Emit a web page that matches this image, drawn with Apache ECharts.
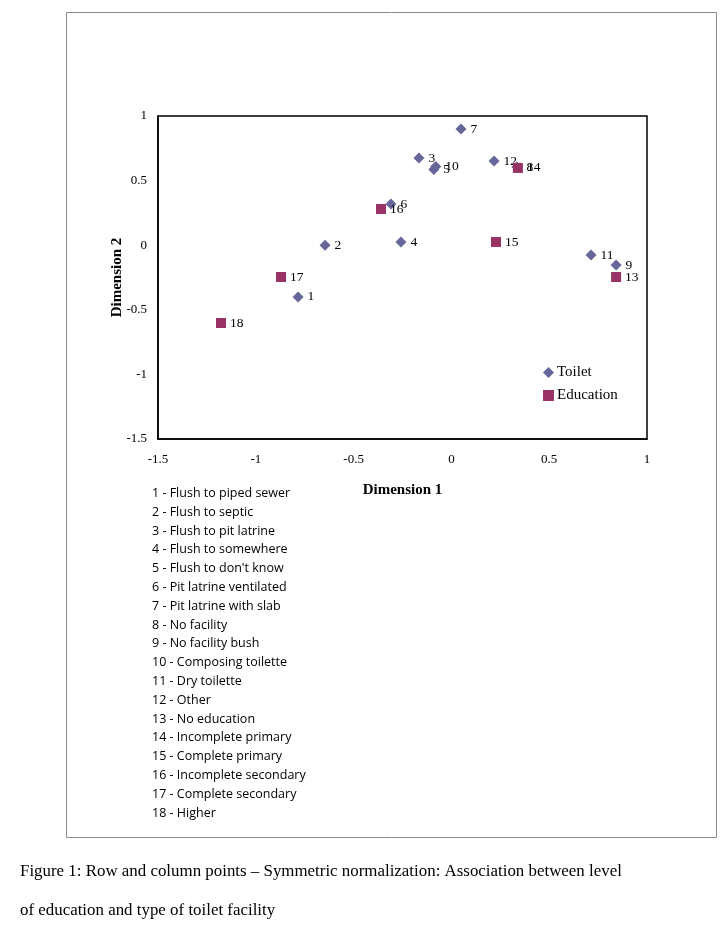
<!DOCTYPE html>
<html>
<head>
<meta charset="utf-8">
<script src="https://cdn.jsdelivr.net/npm/echarts@6/dist/echarts.min.js"></script>
<style>
html,body{margin:0;padding:0;background:#fff;}
#c{width:724px;height:929px;}
</style>
</head>
<body>
<div id="c"></div>
<script>
// Toilet facility points: [dim1, dim2, id]
const toiletPoints = [
  [-0.784, -0.40, '1'],
  [-0.646, 0.00, '2'],
  [-0.166, 0.675, '3'],
  [-0.258, 0.025, '4'],
  [-0.090, 0.585, '5'],
  [-0.309, 0.319, '6'],
  [0.049, 0.899, '7'],
  [0.335, 0.605, '8'],
  [0.842, -0.153, '9'],
  [-0.080, 0.610, '10'],
  [0.714, -0.076, '11'],
  [0.218, 0.652, '12']
];
// Education points: [dim1, dim2, id]
const educationPoints = [
  [0.842, -0.246, '13'],
  [0.340, 0.598, '14'],
  [0.228, 0.025, '15'],
  [-0.360, 0.280, '16'],
  [-0.871, -0.246, '17'],
  [-1.178, -0.602, '18']
];
const itemNames = [
  '1 - Flush to piped sewer','2 - Flush to septic','3 - Flush to pit latrine',
  '4 - Flush to somewhere','5 - Flush to don\'t know','6 - Pit latrine ventilated',
  '7 - Pit latrine with slab','8 - No facility','9 - No facility bush',
  '10 - Composing toilette','11 - Dry toilette','12 - Other','13 - No education',
  '14 - Incomplete primary','15 - Complete primary','16 - Incomplete secondary',
  '17 - Complete secondary','18 - Higher'
];
const captionLines = [
  'Figure 1: Row and column points \u2013 Symmetric normalization: Association between level',
  'of education and type of toilet facility'
];
const axisMin = -1.5, axisMax = 1, axisStep = 0.5;

const serif = '"Liberation Serif","DejaVu Serif",serif';
const chart = echarts.init(document.getElementById('c'));

const graphics = [
  {type:'rect', shape:{x:66.5,y:12.5,width:650,height:825}, style:{fill:'none',stroke:'#8a8a8a',lineWidth:1}, z:-1}
];
itemNames.forEach((t,i)=>{
  graphics.push({type:'text', left:152, top:487 + i*18.8,
    style:{text:t, font:'12.5px "Open Sans","Noto Sans",sans-serif', fill:'#000'}});
});
captionLines.forEach((t,i)=>{
  graphics.push({type:'text', left:20, top:863 + i*39,
    style:{text:t, font:'16.9px '+serif, fill:'#000'}});
});

const labelCfg = {show:true, position:'right', distance:4, formatter:p=>p.value[2],
  fontFamily:serif, fontSize:13.5, color:'#000'};

chart.setOption({
  animation:false,
  backgroundColor:'#fff',
  grid:{left:158, top:116, width:489, height:323, show:true, borderColor:'#000', borderWidth:1.5, containLabel:false},
  xAxis:{type:'value', min:axisMin, max:axisMax, interval:axisStep,
    name:'Dimension 1', nameLocation:'middle', nameGap:44, nameMoveOverlap:false,
    nameTextStyle:{fontFamily:serif, fontSize:15, fontWeight:'bold', color:'#000'},
    axisLine:{show:true, onZero:false, lineStyle:{color:'#000', width:1.5}},
    axisTick:{show:false}, splitLine:{show:false},
    axisLabel:{fontFamily:serif, fontSize:13, color:'#000', margin:14}},
  yAxis:{type:'value', min:axisMin, max:axisMax, interval:axisStep,
    name:'Dimension 2', nameLocation:'middle', nameGap:33, nameMoveOverlap:false,
    nameTextStyle:{fontFamily:serif, fontSize:15, fontWeight:'bold', color:'#000'},
    axisLine:{show:true, onZero:false, lineStyle:{color:'#000', width:1.5}},
    axisTick:{show:false}, splitLine:{show:false},
    axisLabel:{fontFamily:serif, fontSize:13, color:'#000', margin:11}},
  legend:{orient:'vertical', left:538, top:360, itemGap:8, itemWidth:11, itemHeight:11,
    textStyle:{fontFamily:serif, fontSize:15, color:'#000', padding:[0,0,0,-2]},
    data:[{name:'Toilet', icon:'diamond'},{name:'Education', icon:'rect'}]},
  graphic:graphics,
  series:[
    {name:'Toilet', type:'scatter', symbol:'diamond', symbolSize:11,
      itemStyle:{color:'#666699', opacity:1}, label:labelCfg, data:toiletPoints, z:3},
    {name:'Education', type:'scatter', symbol:'rect', symbolSize:10,
      itemStyle:{color:'#993366', opacity:1}, label:labelCfg, data:educationPoints, z:4}
  ]
});
</script>
</body>
</html>
